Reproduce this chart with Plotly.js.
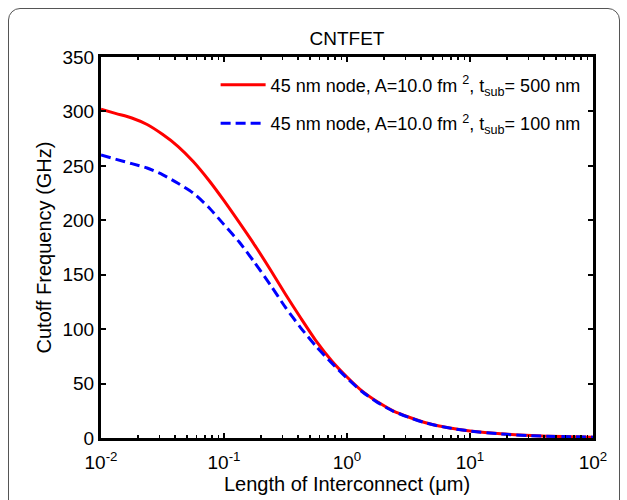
<!DOCTYPE html>
<html>
<head>
<meta charset="utf-8">
<script src="https://cdn.plot.ly/plotly-3.0.1.min.js"></script>
<style>
  html, body { margin: 0; padding: 0; background: #fff; overflow: hidden; }
  #wrap { position: relative; width: 627px; height: 500px; }
  #chart { width: 627px; height: 500px; }
  #frame { position: absolute; left: 8px; top: 8px; width: 610px; height: 520px;
           border: 1px solid #555; border-radius: 12px; pointer-events: none; }
</style>
</head>
<body>
<div id="wrap">
  <div id="chart"></div>
  <div id="frame"></div>
</div>
<script>
// Length of interconnect (µm), 1/8-decade steps then 1/4-decade
const lengthUm = [0.01, 0.0133, 0.0178, 0.0237, 0.0316, 0.0422, 0.0562, 0.075, 0.1, 0.133, 0.178, 0.237, 0.316, 0.422, 0.562, 0.75,
                  1, 1.33, 1.78, 2.37, 3.16, 4.22, 5.62, 7.5, 10, 17.8, 31.6, 56.2, 100];
// Cutoff frequency (GHz), t_sub = 500 nm
const fT500 = [302, 298, 294, 288, 279, 268, 254, 237, 218, 198, 177, 155, 132, 110, 89, 71,
               56, 43, 33, 25, 19.3, 14.5, 11, 8.5, 6.5, 3.8, 2.2, 1.3, 0.8];
// Cutoff frequency (GHz), t_sub = 100 nm
const fT100 = [260, 256, 252, 248, 242, 234, 225, 212, 196, 180, 161, 141, 120, 101, 84, 69,
               55, 42.5, 32.5, 24.7, 19.1, 14.3, 10.9, 8.4, 6.4, 3.7, 2.1, 1.3, 0.8];

const seriesNames = [
  '45 nm node, A=10.0 fm <sup>2</sup>, t<sub>sub</sub>= 500 nm',
  '45 nm node, A=10.0 fm <sup>2</sup>, t<sub>sub</sub>= 100 nm'
];
const xTickVals = [0.01, 0.1, 1, 10, 100];
const xTickText = ['10<sup>-2</sup>', '10<sup>-1</sup>', '10<sup>0</sup>', '10<sup>1</sup>', '10<sup>2</sup>'];
const yTickVals = [0, 50, 100, 150, 200, 250, 300, 350];

const FONT = 'Liberation Sans, Arial, sans-serif';

const traces = [
  { x: lengthUm, y: fT500, name: seriesNames[0], legendgroup: 'a', type: 'scatter', mode: 'lines',
    line: { color: '#ff0000', width: 3, shape: 'spline', smoothing: 0.6 } },
  { x: lengthUm, y: fT100, name: seriesNames[1], legendgroup: 'b', type: 'scatter', mode: 'lines',
    line: { color: '#0000ff', width: 3, dash: '10px,5px', shape: 'spline', smoothing: 0.6 } }
];

const layout = {
  width: 627, height: 500,
  margin: { l: 101, r: 34, t: 57, b: 62 },
  paper_bgcolor: '#ffffff', plot_bgcolor: '#ffffff',
  font: { family: FONT, size: 18, color: '#000' },
  showlegend: true,
  title: { text: 'CNTFET', font: { family: FONT, size: 19, color: '#000' },
           x: 0.5, xref: 'paper', y: 1, yref: 'paper', yanchor: 'bottom', pad: { b: 12 } },
  legend: { x: 0.985, xanchor: 'right', y: 0.975, yanchor: 'top', bgcolor: 'rgba(255,255,255,0)',
            borderwidth: 0, itemwidth: 45, font: { family: FONT, size: 18, color: '#000' }, tracegroupgap: 12 },
  xaxis: {
    type: 'log', range: [-2, 2],
    tickvals: xTickVals, ticktext: xTickText,
    ticks: 'inside', ticklen: 5, tickwidth: 2, tickcolor: '#000',
    minor: { ticks: 'inside', ticklen: 3, tickwidth: 1.5, tickcolor: '#000', dtick: 'D1', showgrid: false },
    showline: true, linewidth: 3, linecolor: '#000', mirror: 'allticks',
    showgrid: false, zeroline: false, ticklabelstandoff: 5,
    tickfont: { family: FONT, size: 19, color: '#000' },
    title: { text: 'Length of Interconnect (\u03bcm)', font: { family: FONT, size: 20, color: '#000' }, standoff: 6 }
  },
  yaxis: {
    range: [0, 350], tickvals: yTickVals,
    ticks: 'inside', ticklen: 5, tickwidth: 2, tickcolor: '#000',
    showline: true, linewidth: 3, linecolor: '#000', mirror: 'allticks',
    showgrid: false, zeroline: false,
    tickfont: { family: FONT, size: 19, color: '#000' },
    title: { text: 'Cutoff Frequency (GHz)', font: { family: FONT, size: 20, color: '#000' }, standoff: 6 }
  }
};

Plotly.newPlot('chart', traces, layout, { displayModeBar: false, staticPlot: true });
</script>
</body>
</html>
